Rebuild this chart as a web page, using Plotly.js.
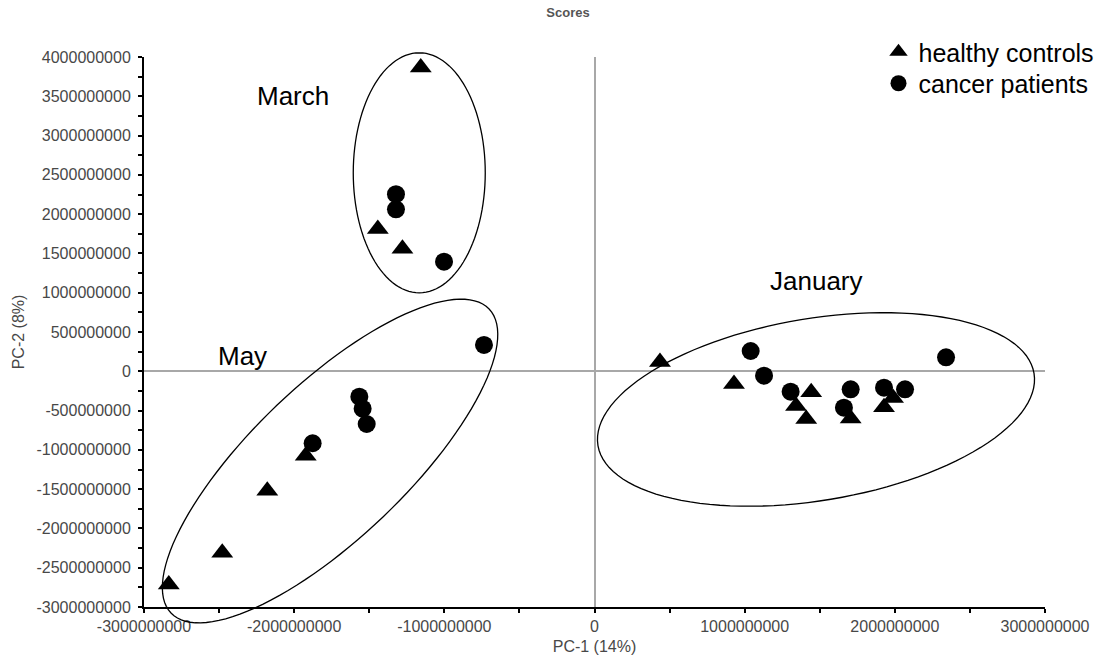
<!DOCTYPE html>
<html><head><meta charset="utf-8">
<script src="https://cdn.plot.ly/plotly-3.0.1.min.js"></script>
<style>html,body{margin:0;padding:0;background:#fff}#chart{width:1098px;height:655px}</style>
</head><body><div id="chart"></div>
<script>
// ---- data (PCA scores) ----
const healthyX = [-1.157e9, -1.443e9, -1.279e9,
                  -1.923e9, -2.179e9, -2.479e9, -2.835e9,
                   0.436e9,  0.929e9,  1.443e9,  1.342e9,  1.410e9,  1.706e9,  1.928e9,  1.988e9];
const healthyY = [ 3.867e9,  1.812e9,  1.558e9,
                  -1.074e9, -1.522e9, -2.311e9, -2.715e9,
                   0.118e9, -0.163e9, -0.266e9, -0.441e9, -0.606e9, -0.600e9, -0.457e9, -0.340e9];
const cancerX  = [-1.322e9, -1.322e9, -1.002e9,
                  -0.736e9, -1.566e9, -1.544e9, -1.517e9, -1.877e9,
                   1.040e9,  1.129e9,  1.306e9,  1.706e9,  1.661e9,  1.928e9,  2.068e9,  2.341e9];
const cancerY  = [ 2.254e9,  2.062e9,  1.395e9,
                   0.335e9, -0.323e9, -0.476e9, -0.671e9, -0.916e9,
                   0.258e9, -0.056e9, -0.259e9, -0.229e9, -0.463e9, -0.209e9, -0.229e9,  0.178e9];
const seriesNames = ['healthy controls', 'cancer patients'];
const groupLabels = ['March', 'May', 'January'];
const xTickVals = [-3e9, -2e9, -1e9, 0, 1e9, 2e9, 3e9];
const xTickText = ['-3000000000','-2000000000','-1000000000','0','1000000000','2000000000','3000000000'];
const yTickVals = [-3e9,-2.5e9,-2e9,-1.5e9,-1e9,-0.5e9,0,0.5e9,1e9,1.5e9,2e9,2.5e9,3e9,3.5e9,4e9];
const yTickText = ['-3000000000','-2500000000','-2000000000','-1500000000','-1000000000','-500000000','0',
                   '500000000','1000000000','1500000000','2000000000','2500000000','3000000000','3500000000','4000000000'];

// ---- layout geometry ----
const W = 1098, H = 655;
const M = {l: 144, r: 53, t: 57, b: 48, autoexpand: false};
const xRange = [-3e9, 3e9], yRange = [-3e9, 4e9];
const plotW = W - M.l - M.r, plotH = H - M.t - M.b;

// minor ticks
const xMinor = [], yMinor = [];
for (let v = xRange[0]; v <= xRange[1]; v += 5e8) xMinor.push(v);
for (let v = yRange[0]; v <= yRange[1]; v += 2.5e8) yMinor.push(v);

// cluster ellipses: centre in data units, semi-axes in px, rotation in deg
const ellipses = [
  {cx: -1.167e9, cy:  2.526e9, a: 66,  b: 120, rot: 0},
  {cx: -1.761e9, cy: -1.142e9, a: 220, b: 77,  rot: 43.7},
  {cx:  1.475e9, cy: -0.486e9, a: 221, b: 91,  rot: 9.4}
];
function ellipsePath(e) {
  const px = (e.cx - xRange[0]) / (xRange[1] - xRange[0]);
  const py = (e.cy - yRange[0]) / (yRange[1] - yRange[0]);
  const r = e.rot * Math.PI / 180;
  let d = '';
  for (let i = 0; i <= 120; i++) {
    const t = i / 120 * 2 * Math.PI;
    const ox = e.a * Math.cos(t) * Math.cos(r) - e.b * Math.sin(t) * Math.sin(r);
    const oy = e.a * Math.cos(t) * Math.sin(r) + e.b * Math.sin(t) * Math.cos(r);
    d += (i ? 'L' : 'M') + (px + ox / plotW).toFixed(5) + ',' + (py + oy / plotH).toFixed(5);
  }
  return d + 'Z';
}
const shapes = ellipses.map(e => ({type: 'path', xref: 'paper', yref: 'paper', path: ellipsePath(e),
  line: {color: '#000', width: 1.3}, fillcolor: 'rgba(0,0,0,0)', layer: 'above'}));

const labelPos = [
  {x: -2.261e9, y: 3.50e9},
  {x: -2.521e9, y: 0.19e9},
  {x:  1.155e9, y: 1.15e9}
];
const annotations = groupLabels.map((t, i) => ({
  text: t, x: labelPos[i].x, y: labelPos[i].y, xref: 'x', yref: 'y',
  xanchor: 'left', yanchor: 'middle', showarrow: false,
  font: {family: 'Liberation Sans, Arial, sans-serif', size: 26, color: '#000'}
}));

const traces = [
  {type: 'scatter', mode: 'markers', name: seriesNames[0], x: healthyX, y: healthyY, cliponaxis: false,
   legend: 'legend', marker: {symbol: 'triangle-up', size: 19, color: '#000'}},
  {type: 'scatter', mode: 'markers', name: seriesNames[1], x: cancerX, y: cancerY, cliponaxis: false,
   legend: 'legend2', marker: {symbol: 'circle', size: 18, color: '#000'}}
];

const font = 'Liberation Sans, Arial, sans-serif';
const tickFont = {family: font, size: 16, color: '#484848'};
function legendAt(topPx) {
  return {x: (878.5 - M.l) / plotW, xanchor: 'left', y: (H - M.b - topPx) / plotH, yanchor: 'top',
          font: {family: font, size: 25, color: '#000'},
          bgcolor: 'rgba(0,0,0,0)', borderwidth: 0, itemsizing: 'trace'};
}
const layout = {
  width: W, height: H, margin: M,
  paper_bgcolor: '#fff', plot_bgcolor: '#fff',
  showlegend: true,
  title: {text: 'Scores', x: 568 / W, xanchor: 'center', y: 1 - 12 / H, yanchor: 'middle', xref: 'container', yref: 'container',
          font: {family: font, size: 13, color: '#555', weight: 'bold'}},
  xaxis: {range: xRange, showgrid: false, zeroline: true, zerolinecolor: '#a8a8a8', zerolinewidth: 2,
          showline: true, linecolor: '#000', linewidth: 2,
          ticks: 'outside', ticklen: 4, tickwidth: 2, tickcolor: '#000',
          tickmode: 'array', tickvals: xTickVals, ticktext: xTickText, tickfont: tickFont,
          minor: {tickmode: 'array', tickvals: xMinor, ticks: 'outside', ticklen: 4, tickwidth: 2, tickcolor: '#000', showgrid: false},
          title: {text: 'PC-1 (14%)', standoff: 8, font: {family: font, size: 16, color: '#484848'}},
          automargin: false, fixedrange: true},
  yaxis: {range: yRange, showgrid: false, zeroline: true, zerolinecolor: '#a8a8a8', zerolinewidth: 2,
          showline: true, linecolor: '#000', linewidth: 2,
          ticks: 'outside', ticklen: 4, tickwidth: 2, tickcolor: '#000',
          tickmode: 'array', tickvals: yTickVals, ticktext: yTickText, tickfont: tickFont, ticklabelstandoff: 4,
          minor: {tickmode: 'array', tickvals: yMinor, ticks: 'outside', ticklen: 4, tickwidth: 2, tickcolor: '#000', showgrid: false},
          title: {text: 'PC-2 (8%)', standoff: 8, font: {family: font, size: 16, color: '#484848'}},
          automargin: false, fixedrange: true},
  legend: legendAt(29),
  legend2: legendAt(60.5),
  shapes: shapes,
  annotations: annotations
};
Plotly.newPlot('chart', traces, layout, {displayModeBar: false, staticPlot: true});
</script></body></html>
